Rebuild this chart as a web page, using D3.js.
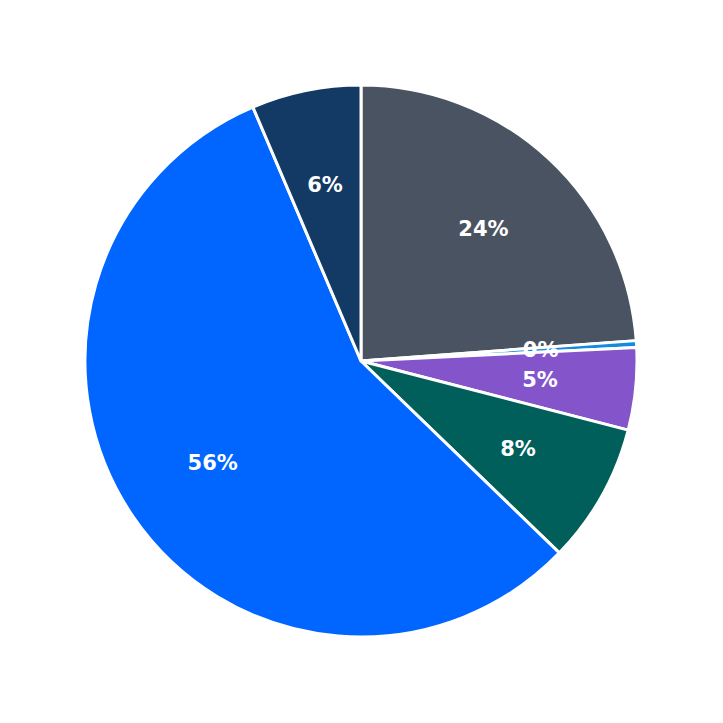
<!DOCTYPE html>
<html><head><meta charset="utf-8">
<script src="https://cdn.jsdelivr.net/npm/d3@7"></script>
<style>body{margin:0;background:#fff}</style>
</head><body><svg id="c" width="723" height="723"></svg>
<script>
const categories = ["A","B","C","D","E","F"];
const values = [23.8, 0.4, 4.8, 8.2, 56.3, 6.4];
const colors = ["#4a5361","#1589e0","#8454cb","#005f5b","#0066ff","#133a64"];
const svg = d3.select("#c");
const g = svg.append("g").attr("transform","translate(361,361)");
const data = categories.map((c,i)=>({c,v:values[i],col:colors[i]}));
const pie = d3.pie().value(d=>d.v).sort(null);
const arc = d3.arc().innerRadius(0).outerRadius(276);
const lab = d3.arc().innerRadius(180).outerRadius(180);
const total = d3.sum(values);
const arcs = pie(data);
g.selectAll("path").data(arcs).join("path").attr("d",arc)
 .attr("fill",d=>d.data.col).attr("stroke","#fff").attr("stroke-width",3).attr("stroke-linejoin","round");
g.selectAll("text").data(arcs).join("text")
 .attr("transform",d=>`translate(${lab.centroid(d)})`)
 .attr("text-anchor","middle").attr("dy","0.35em")
 .attr("fill","#fff").attr("font-family","DejaVu Sans").attr("font-weight","bold").attr("font-size",21)
 .text(d=>Math.round(d.data.v/total*100)+"%");
</script></body></html>
